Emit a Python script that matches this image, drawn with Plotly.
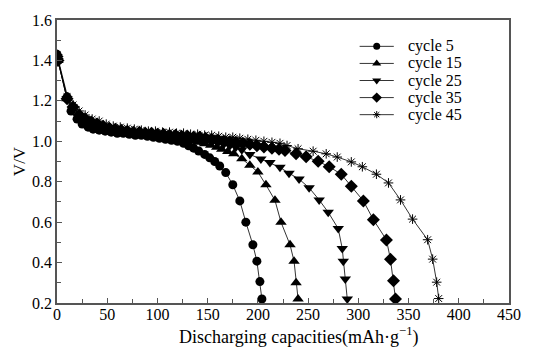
import plotly.graph_objects as go

x_tick_vals = [0, 50, 100, 150, 200, 250, 300, 350, 400, 450]
y_tick_vals = [0.2, 0.4, 0.6, 0.8, 1.0, 1.2, 1.4, 1.6]

names = ["cycle 5", "cycle 15", "cycle 25", "cycle 35", "cycle 45"]

c5_x = [0, 1, 10, 14, 20, 25, 31, 36, 42, 48, 54, 60, 66, 72, 78, 84, 90, 96, 102, 108, 114, 120, 126, 131, 136, 141, 147, 152, 157, 162, 168, 175, 182, 188, 195, 199, 202, 204]
c5_y = [1.43, 1.41, 1.22, 1.15, 1.11, 1.085, 1.07, 1.06, 1.055, 1.05, 1.045, 1.04, 1.04, 1.035, 1.03, 1.03, 1.025, 1.02, 1.015, 1.01, 1.005, 1.0, 0.99, 0.978, 0.966, 0.952, 0.935, 0.918, 0.9, 0.878, 0.845, 0.785, 0.705, 0.60, 0.488, 0.407, 0.306, 0.22]

c15_x = [0, 1, 10, 15, 21, 27, 33, 39, 45, 51, 57, 63, 69, 75, 81, 87, 93, 99, 105, 111, 117, 123, 129, 135, 141, 147, 153, 159, 164, 170, 176, 184, 192, 200, 208, 217, 223, 232, 236, 238, 240]
c15_y = [1.42, 1.40, 1.21, 1.16, 1.12, 1.095, 1.08, 1.07, 1.06, 1.055, 1.05, 1.045, 1.04, 1.04, 1.035, 1.03, 1.03, 1.025, 1.02, 1.02, 1.015, 1.01, 1.005, 1.0, 0.995, 0.988, 0.98, 0.97, 0.96, 0.95, 0.938, 0.914, 0.882, 0.848, 0.785, 0.708, 0.60, 0.488, 0.407, 0.30, 0.22]

c25_x = [0, 1, 10, 16, 22, 28, 34, 40, 46, 52, 58, 64, 70, 76, 82, 88, 94, 100, 106, 112, 118, 124, 130, 136, 142, 148, 154, 160, 166, 172, 178, 184, 192, 203, 212, 222, 231, 241, 251, 261, 270, 280, 284, 285, 287, 289]
c25_y = [1.42, 1.40, 1.21, 1.16, 1.12, 1.10, 1.085, 1.075, 1.065, 1.06, 1.055, 1.05, 1.045, 1.04, 1.04, 1.035, 1.035, 1.03, 1.03, 1.025, 1.02, 1.02, 1.015, 1.01, 1.005, 1.0, 0.995, 0.99, 0.985, 0.978, 0.97, 0.958, 0.935, 0.912, 0.895, 0.871, 0.842, 0.813, 0.77, 0.71, 0.649, 0.568, 0.469, 0.407, 0.319, 0.22]

c35_x = [0, 1, 10, 16, 22, 28, 34, 40, 46, 52, 58, 64, 70, 76, 82, 88, 94, 100, 106, 112, 118, 124, 130, 136, 142, 148, 154, 160, 166, 172, 178, 185, 192, 199, 206, 214, 221, 227, 238, 248, 260, 271, 283, 293, 305, 315, 328, 332, 335, 337]
c35_y = [1.42, 1.40, 1.21, 1.17, 1.13, 1.11, 1.095, 1.085, 1.075, 1.065, 1.06, 1.055, 1.05, 1.045, 1.045, 1.04, 1.04, 1.035, 1.035, 1.03, 1.03, 1.025, 1.025, 1.02, 1.02, 1.015, 1.01, 1.005, 1.0, 0.998, 0.995, 0.99, 0.985, 0.978, 0.972, 0.965, 0.96, 0.954, 0.938, 0.923, 0.901, 0.874, 0.837, 0.777, 0.705, 0.612, 0.512, 0.416, 0.31, 0.22]

c45_x = [0, 1, 10, 16, 22, 28, 35, 42, 49, 56, 63, 70, 77, 84, 91, 98, 105, 112, 119, 126, 133, 140, 147, 154, 161, 168, 175, 182, 190, 198, 206, 214, 222, 229, 240, 255, 268, 279, 293, 304, 318, 330, 342, 354, 369, 374, 378, 380]
c45_y = [1.43, 1.40, 1.22, 1.18, 1.15, 1.13, 1.11, 1.10, 1.085, 1.075, 1.07, 1.065, 1.06, 1.055, 1.05, 1.05, 1.045, 1.045, 1.04, 1.04, 1.035, 1.035, 1.03, 1.03, 1.025, 1.02, 1.02, 1.015, 1.01, 1.005, 1.0, 0.995, 0.99, 0.979, 0.963, 0.951, 0.938, 0.922, 0.898, 0.874, 0.837, 0.794, 0.71, 0.615, 0.513, 0.417, 0.303, 0.222]

series_x = [c5_x, c15_x, c25_x, c35_x, c45_x]
series_y = [c5_y, c15_y, c25_y, c35_y, c45_y]
symbols = ["circle", "triangle-up", "triangle-down", "diamond", "asterisk-open"]
sizes = [9, 10, 10, 10, 8]

FONT = "Times New Roman, Liberation Serif, DejaVu Serif, serif"
AX = "#555555"

# plot area in pixels
L, R, T, B = 57, 520, 13, 303
W, H = 533, 355

fig = go.Figure()


def marker_for(sym, sz):
    mk = dict(symbol=sym, size=sz, color="black")
    if sym == "asterisk-open":
        mk["line"] = dict(color="black", width=1)
    else:
        mk["line"] = dict(width=0)
    return mk


for nm, xs, ys, sym, sz in zip(names, series_x, series_y, symbols, sizes):
    fig.add_trace(go.Scatter(x=xs, y=ys, name=nm, mode="lines+markers",
                             line=dict(color="black", width=0.8),
                             marker=marker_for(sym, sz), showlegend=False))

# manual legend drawn on an overlay axis measured in pixels
leg_rows = [40, 57.5, 75, 92.5, 110]
leg_line = (367, 402)
leg_text_x = 415
for nm, sym, sz, ry in zip(names, symbols, sizes, leg_rows):
    fig.add_trace(go.Scatter(x=list(leg_line), y=[ry, ry], mode="lines",
                             line=dict(color="black", width=0.8),
                             xaxis="x2", yaxis="y2", showlegend=False, hoverinfo="skip"))
    fig.add_trace(go.Scatter(x=[(leg_line[0] + leg_line[1]) / 2], y=[ry], mode="markers",
                             marker=marker_for(sym, sz - 2),
                             xaxis="x2", yaxis="y2", showlegend=False, hoverinfo="skip"))
    fig.add_annotation(x=leg_text_x, y=ry, xref="x2", yref="y2", text=nm, showarrow=False,
                       xanchor="left", yanchor="middle",
                       font=dict(family=FONT, size=16, color="black"))


def axis_common():
    return dict(showline=True, linecolor=AX, linewidth=1.5, mirror=True,
                ticks="inside", ticklen=5, tickcolor=AX, tickwidth=1,
                showgrid=False, zeroline=False,
                tickfont=dict(family=FONT, size=16, color="black"))


xaxis = axis_common()
xaxis.update(range=[0, 450], tickvals=x_tick_vals, ticktext=[str(v) for v in x_tick_vals],
             minor=dict(ticks="inside", ticklen=4, dtick=25, tickcolor=AX),
             ticklabelstandoff=-4)
yaxis = axis_common()
yaxis.update(range=[0.2, 1.6], tickvals=y_tick_vals, ticktext=[f"{v:.1f}" for v in y_tick_vals],
             minor=dict(ticks="inside", ticklen=4, dtick=0.1, tickcolor=AX),
             title=dict(text="V/V", font=dict(family=FONT, size=17, color="black"), standoff=2))

fig.update_layout(
    xaxis=xaxis,
    yaxis=yaxis,
    xaxis2=dict(overlaying="x", anchor="y2", range=[L, R], visible=False, fixedrange=True),
    yaxis2=dict(overlaying="y", anchor="x2", range=[B, T], visible=False, fixedrange=True),
)

# x-axis title (placed a little right of centre, as in the original)
fig.add_annotation(x=(305 - L) / (R - L), y=1 - (337 - T) / (B - T), xref="paper", yref="paper",
                   text="Discharging capacities(mAh·g<sup>−1</sup>)", showarrow=False,
                   xanchor="center", yanchor="middle",
                   font=dict(family=FONT, size=18, color="black"))

fig.update_layout(
    width=W, height=H,
    margin=dict(l=L, r=W - R, t=T, b=H - B),
    plot_bgcolor="white", paper_bgcolor="white",
    font=dict(family=FONT, size=16, color="black"),
    showlegend=False,
)

fig.write_html("out.html")
